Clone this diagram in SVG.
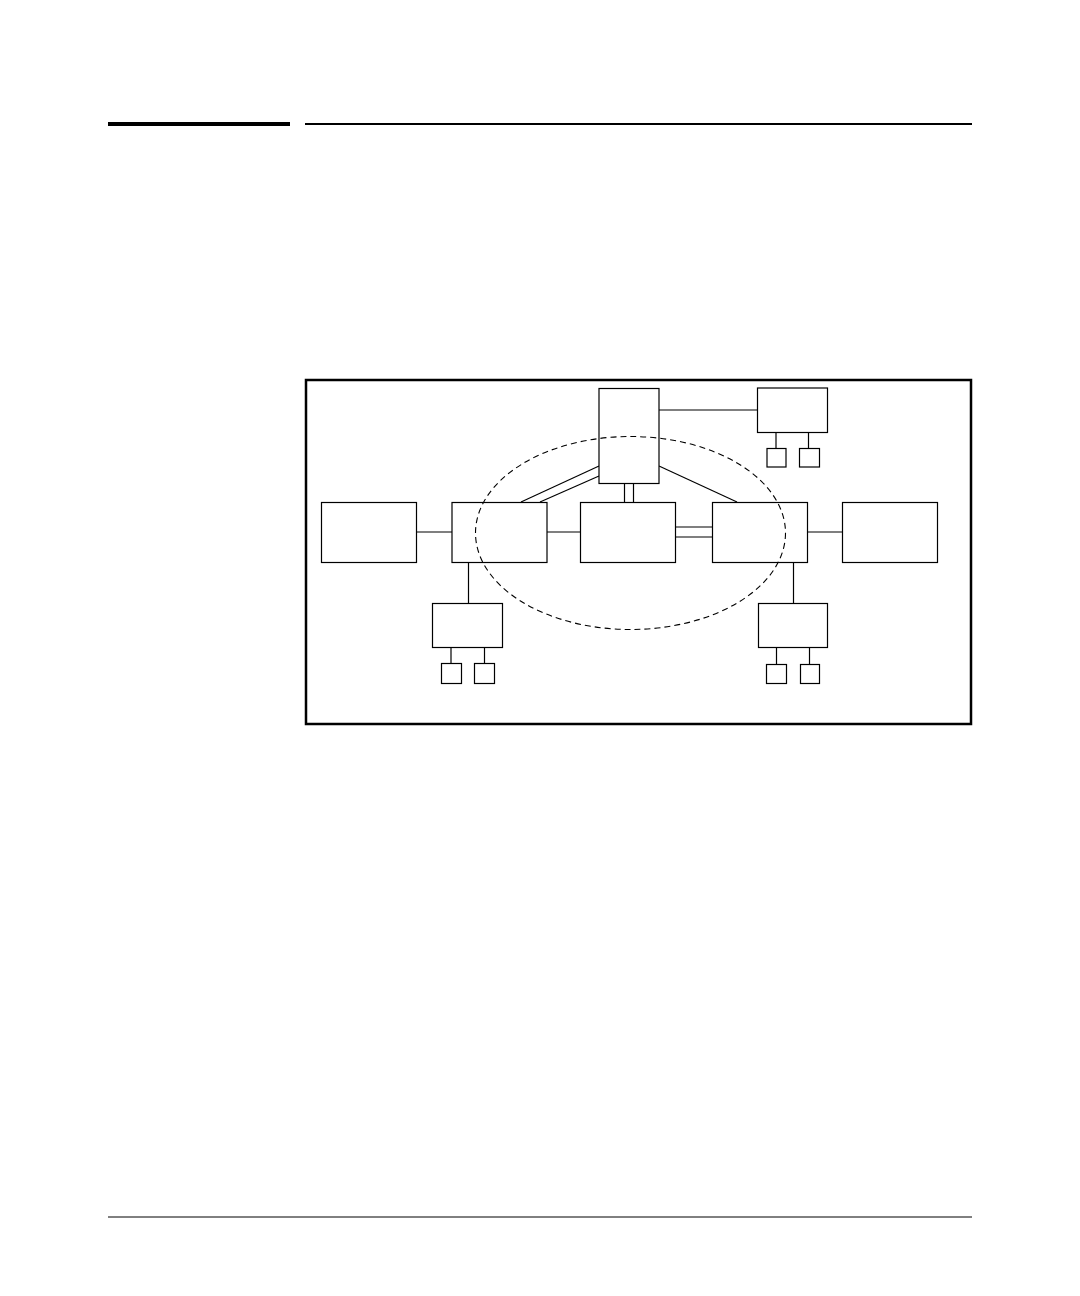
<svg xmlns="http://www.w3.org/2000/svg" width="1080" height="1296" viewBox="0 0 1080 1296">
<style>
.n{fill:#fff;stroke:#000;stroke-width:1.2}
.c{stroke:#000;stroke-width:1.2;fill:none}
</style>
<rect width="1080" height="1296" fill="#fff"/>
<g id="page-rules">
<line x1="108" y1="124" x2="290" y2="124" stroke="#000" stroke-width="4"/>
<line x1="305" y1="124" x2="972" y2="124" stroke="#000" stroke-width="1.8"/>
<line x1="108" y1="1217" x2="972" y2="1217" stroke="#000" stroke-width="1"/>
</g>
<rect id="frame" x="306" y="380" width="665" height="344" fill="none" stroke="#000" stroke-width="2.5"/>
<g id="connectors">
<line class="c" x1="417" y1="532" x2="452" y2="532"/>
<line class="c" x1="547" y1="532" x2="580" y2="532"/>
<line class="c" x1="807" y1="532" x2="843" y2="532"/>
<line class="c" x1="675" y1="527" x2="712" y2="527"/>
<line class="c" x1="675" y1="537" x2="712" y2="537"/>
<line class="c" x1="624.5" y1="483" x2="624.5" y2="502"/>
<line class="c" x1="633.5" y1="483" x2="633.5" y2="502"/>
<line class="c" x1="521" y1="502" x2="599" y2="466"/>
<line class="c" x1="540" y1="502" x2="599" y2="476"/>
<line class="c" x1="659" y1="466" x2="737" y2="502"/>
<line class="c" x1="659" y1="410" x2="757" y2="410"/>
<line class="c" x1="776" y1="432" x2="776" y2="448"/>
<line class="c" x1="808.5" y1="432" x2="808.5" y2="448"/>
<line class="c" x1="468.5" y1="562" x2="468.5" y2="603"/>
<line class="c" x1="451" y1="647" x2="451" y2="663" stroke-width="2"/>
<line class="c" x1="484.5" y1="647" x2="484.5" y2="663"/>
<line class="c" x1="793.5" y1="562" x2="793.5" y2="603"/>
<line class="c" x1="776.5" y1="647" x2="776.5" y2="664"/>
<line class="c" x1="809.5" y1="647" x2="809.5" y2="664"/>
</g>
<g id="n-left"><rect class="n" x="321.5" y="502.5" width="95" height="60"/></g>
<g id="n-b2"><rect class="n" x="452" y="502.5" width="95" height="60"/></g>
<g id="n-b3"><rect class="n" x="580.5" y="502.5" width="95" height="60"/></g>
<g id="n-b4"><rect class="n" x="712.5" y="502.5" width="95" height="60"/></g>
<g id="n-right"><rect class="n" x="842.5" y="502.5" width="95" height="60"/></g>
<g id="n-top"><rect class="n" x="599" y="388.5" width="60" height="95" stroke="#555"/></g>
<g id="n-topright"><rect class="n" x="757.5" y="388" width="70" height="44.5"/></g>
<g id="n-tr-a"><rect class="n" x="767" y="448.5" width="19" height="18.5"/></g>
<g id="n-tr-b"><rect class="n" x="799.5" y="448.5" width="20" height="18.5"/></g>
<g id="n-bl"><rect class="n" x="432.5" y="603.5" width="70" height="44"/></g>
<g id="n-bl-a"><rect class="n" x="441.5" y="663.5" width="20" height="20"/></g>
<g id="n-bl-b"><rect class="n" x="474.5" y="663.5" width="20" height="20"/></g>
<g id="n-br"><rect class="n" x="758.5" y="603.5" width="69" height="44"/></g>
<g id="n-br-a"><rect class="n" x="766.5" y="664.5" width="20" height="19"/></g>
<g id="n-br-b"><rect class="n" x="800.5" y="664.5" width="19" height="19"/></g>
<g id="ring"><ellipse cx="630.5" cy="533" rx="155" ry="96.5" fill="none" stroke="#000" stroke-width="1.1" stroke-dasharray="6 4"/></g>
</svg>
